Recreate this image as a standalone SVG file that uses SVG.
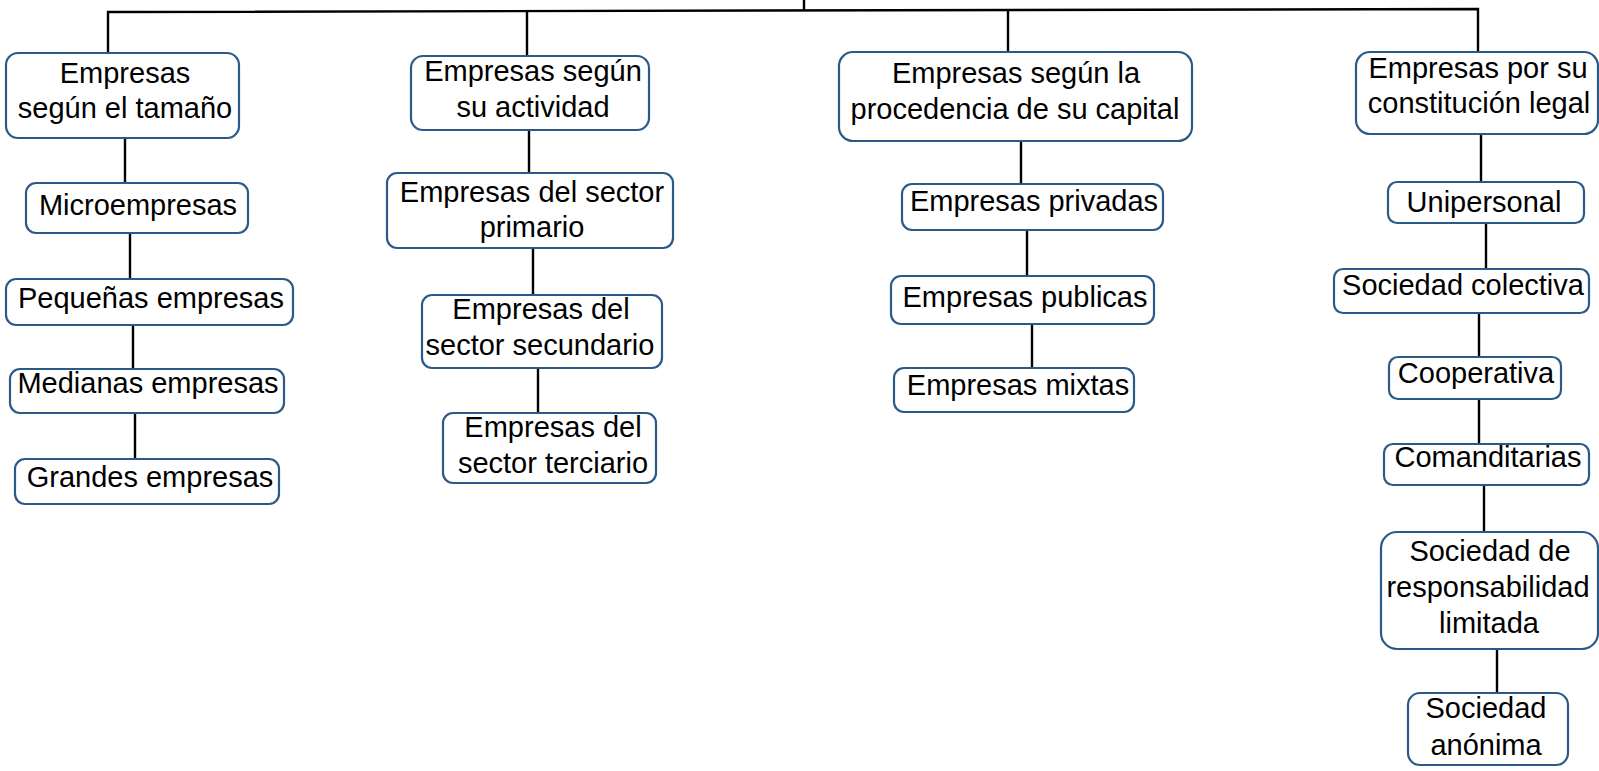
<svg xmlns="http://www.w3.org/2000/svg" width="1599" height="771" viewBox="0 0 1599 771">
<style>
.box{fill:#fff;stroke:#2C5A88;stroke-width:2.2}
.ln{stroke:#000;stroke-width:2.4;fill:none}
text{font-family:"Liberation Sans",Arial,sans-serif;font-size:29px;fill:#000;text-anchor:middle}
</style>
<rect width="1599" height="771" fill="#fff"/>
<g id="connectors">
<path class="ln" d="M108,53 V12 L1478,9 V53"/>
<path class="ln" d="M804,0 V11"/>
<path class="ln" d="M527,11 V56"/>
<path class="ln" d="M1008,10 V53"/>
<path class="ln" d="M125,138 V183"/>
<path class="ln" d="M130,233 V279"/>
<path class="ln" d="M133,325 V369"/>
<path class="ln" d="M135,413 V459"/>
<path class="ln" d="M529,130 V173"/>
<path class="ln" d="M533,248 V295"/>
<path class="ln" d="M538,368 V413"/>
<path class="ln" d="M1021,141 V184"/>
<path class="ln" d="M1027,230 V276"/>
<path class="ln" d="M1032,324 V368"/>
<path class="ln" d="M1481,134 V182"/>
<path class="ln" d="M1486,223 V269"/>
<path class="ln" d="M1479,313 V357"/>
<path class="ln" d="M1479,399 V444"/>
<path class="ln" d="M1484,485 V532"/>
<path class="ln" d="M1497,649 V693"/>
</g>
<g id="n1"><rect class="box" x="6" y="53" width="233" height="85" rx="12"/><text x="125" y="83">Empresas</text><text x="125" y="118">según el tamaño</text></g>
<g id="n1a"><rect class="box" x="26" y="183" width="222" height="50" rx="10"/><text x="138" y="215">Microempresas</text></g>
<g id="n1b"><rect class="box" x="6" y="279" width="287" height="46" rx="10"/><text x="151" y="308">Pequeñas empresas</text></g>
<g id="n1c"><rect class="box" x="10" y="369" width="274" height="44" rx="10"/><text x="148" y="393">Medianas empresas</text></g>
<g id="n1d"><rect class="box" x="15" y="459" width="264" height="45" rx="10"/><text x="150" y="487">Grandes empresas</text></g>
<g id="n2"><rect class="box" x="411" y="56" width="238" height="74" rx="12"/><text x="533" y="81">Empresas según</text><text x="533" y="117">su actividad</text></g>
<g id="n2a"><rect class="box" x="387" y="173" width="286" height="75" rx="10"/><text x="532" y="202">Empresas del sector</text><text x="532" y="237">primario</text></g>
<g id="n2b"><rect class="box" x="422" y="295" width="240" height="73" rx="10"/><text x="541" y="319">Empresas del</text><text x="540" y="355">sector secundario</text></g>
<g id="n2c"><rect class="box" x="443" y="413" width="213" height="70" rx="10"/><text x="553" y="437">Empresas del</text><text x="553" y="473">sector terciario</text></g>
<g id="n3"><rect class="box" x="839" y="52" width="353" height="89" rx="14"/><text x="1016" y="83">Empresas según la</text><text x="1015" y="119">procedencia de su capital</text></g>
<g id="n3a"><rect class="box" x="902" y="184" width="261" height="46" rx="10"/><text x="1034" y="211">Empresas privadas</text></g>
<g id="n3b"><rect class="box" x="891" y="276" width="263" height="48" rx="10"/><text x="1025" y="307">Empresas publicas</text></g>
<g id="n3c"><rect class="box" x="894" y="368" width="240" height="44" rx="10"/><text x="1018" y="395">Empresas mixtas</text></g>
<g id="n4"><rect class="box" x="1356" y="52" width="242" height="82" rx="14"/><text x="1478" y="78">Empresas por su</text><text x="1479" y="113">constitución legal</text></g>
<g id="n4a"><rect class="box" x="1388" y="182" width="196" height="41" rx="9"/><text x="1484" y="212">Unipersonal</text></g>
<g id="n4b"><rect class="box" x="1334" y="269" width="255" height="44" rx="9"/><text x="1463" y="295">Sociedad colectiva</text></g>
<g id="n4c"><rect class="box" x="1389" y="357" width="172" height="42" rx="9"/><text x="1476" y="383">Cooperativa</text></g>
<g id="n4d"><rect class="box" x="1384" y="444" width="205" height="41" rx="9"/><text x="1488" y="467">Comanditarias</text></g>
<g id="n4e"><rect class="box" x="1381" y="532" width="217" height="117" rx="16"/><text x="1490" y="561">Sociedad de</text><text x="1488" y="597">responsabilidad</text><text x="1489" y="633">limitada</text></g>
<g id="n4f"><rect class="box" x="1408" y="693" width="160" height="72" rx="12"/><text x="1486" y="718">Sociedad</text><text x="1486" y="755">anónima</text></g>
</svg>
